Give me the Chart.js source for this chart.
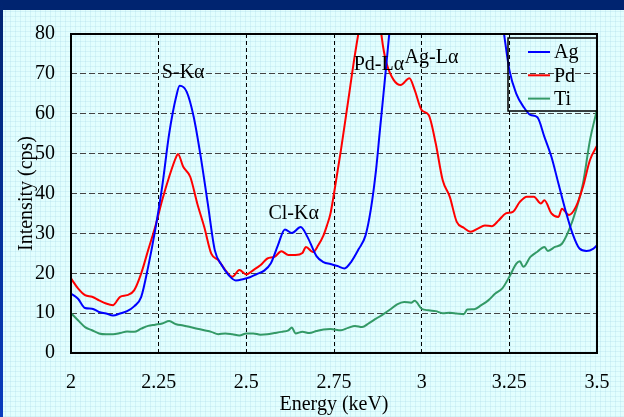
<!DOCTYPE html>
<html><head><meta charset="utf-8">
<script src="https://cdn.jsdelivr.net/npm/chart.js@4.4.1/dist/chart.umd.min.js"></script>
<style>
html,body{margin:0;padding:0;background:#e2fefe;}
#wrap{position:relative;width:624px;height:417px;overflow:hidden;background:#e2fefe;
 background-image: repeating-linear-gradient(0deg, rgba(150,205,225,0.22) 0 1px, transparent 1px 5px), repeating-linear-gradient(90deg, rgba(150,205,225,0.22) 0 1px, transparent 1px 5px);}
#top{position:absolute;left:0;top:0;width:624px;height:10px;background:#002470;}
#left{position:absolute;left:0;top:0;width:3px;height:417px;background:linear-gradient(#002470,#0a3cbe);}
canvas{position:absolute;left:0;top:0;}
</style></head>
<body><div id="wrap"><div id="top"></div><div id="left"></div><canvas id="c" width="624" height="417"></canvas></div>
<script>
// ---- data ----
const seriesNames = ['Ag', 'Pd', 'Ti'];
const seriesColors = ['#0000ff', '#ff0000', '#339966'];

const agE = [2.00,2.02,2.04,2.06,2.08,2.10,2.12,2.14,2.16,2.18,2.20,2.22,2.24,2.26,2.28,2.30,2.31,2.33,2.35,2.37,2.39,2.41,2.43,2.45,2.47,2.49,2.51,2.53,2.55,2.57,2.59,2.61,2.63,2.655,2.675,2.70,2.72,2.74,2.76,2.78,2.80,2.82,2.84,2.855,2.87,2.88,2.89,2.90,2.91,2.94,2.98,3.03,3.09,3.15,3.20,3.22,3.235,3.25,3.27,3.29,3.31,3.33,3.35,3.37,3.39,3.41,3.43,3.45,3.47,3.49,3.50];
const agI = [14.9,13.6,11.3,11.1,10.3,9.9,9.4,9.9,10.5,11.7,14.0,21.6,30.8,41.7,55.0,64.3,67.0,65.5,59.2,49.2,37.5,25.8,22.0,19.5,18.2,18.5,19.0,19.8,20.6,22.5,27.0,31.0,30.1,31.6,29.0,24.3,22.8,22.3,21.8,21.2,23.0,26.0,29.5,36.0,46.0,55.0,64.0,73.0,82.0,100,115,118,112,105,96,90,80,71.0,65.0,61.8,59.7,59.1,54.2,49.2,42.5,35.8,30.0,26.2,25.6,26.2,27.0];

const pdE = [2.00,2.02,2.04,2.06,2.08,2.10,2.12,2.14,2.16,2.18,2.20,2.22,2.24,2.26,2.28,2.30,2.305,2.32,2.34,2.36,2.38,2.40,2.42,2.44,2.46,2.48,2.50,2.52,2.54,2.56,2.58,2.60,2.62,2.64,2.66,2.67,2.69,2.705,2.72,2.73,2.74,2.75,2.77,2.79,2.81,2.83,2.855,2.875,2.885,2.89,2.90,2.92,2.94,2.965,2.98,3.00,3.02,3.04,3.06,3.08,3.10,3.12,3.14,3.16,3.18,3.20,3.22,3.24,3.26,3.28,3.30,3.32,3.34,3.35,3.37,3.39,3.40,3.42,3.44,3.46,3.48,3.50];
const pdI = [18.7,16.2,14.5,14.1,13.2,12.4,12.0,14.1,14.5,15.7,19.9,25.8,31.6,38.3,44.2,49.2,49.9,46.7,44.2,37.5,31.6,24.9,23.3,20.8,19.1,20.8,19.7,20.8,22.0,23.7,24.1,25.5,24.6,24.6,25.1,26.6,25.3,27.0,29.5,32.0,35.0,40.0,51.0,63.0,75.0,85.0,92.0,86.0,80.0,76.8,72.6,68.5,67.2,68.9,66.0,60.9,59.7,52.6,43.3,39.2,32.9,31.4,30.4,31.2,32.0,31.8,33.3,35.0,35.4,37.9,39.2,39.2,37.5,38.3,35.0,34.1,36.2,34.6,36.7,41.7,48.4,52.0];

const tiE = [2.00,2.02,2.04,2.06,2.08,2.10,2.12,2.14,2.16,2.18,2.20,2.22,2.24,2.26,2.28,2.30,2.32,2.34,2.36,2.38,2.40,2.42,2.44,2.46,2.48,2.50,2.52,2.54,2.56,2.58,2.60,2.62,2.63,2.64,2.66,2.68,2.70,2.72,2.74,2.77,2.79,2.81,2.83,2.85,2.87,2.89,2.91,2.93,2.95,2.97,2.98,3.00,3.02,3.04,3.06,3.08,3.10,3.12,3.13,3.15,3.17,3.19,3.21,3.23,3.25,3.27,3.28,3.29,3.31,3.33,3.35,3.36,3.38,3.40,3.42,3.44,3.46,3.48,3.50];
const tiI = [10.0,8.2,6.5,5.7,4.9,4.7,4.7,5.0,5.4,5.3,6.1,6.8,7.1,7.4,8.0,7.2,6.9,6.5,6.1,5.7,5.3,4.7,4.9,4.7,4.4,4.9,4.9,4.6,4.7,5.0,5.3,5.7,6.4,4.9,5.3,5.0,5.5,5.9,6.0,5.7,6.3,6.8,6.5,7.5,8.6,9.7,10.9,12.2,12.8,12.6,13.1,11.1,10.7,10.5,10.0,10.1,9.9,9.7,10.9,11.0,12.0,13.2,14.9,16.2,19.1,22.4,23.0,21.6,24.1,25.4,26.6,25.6,26.6,27.4,30.8,35.8,42.5,53.4,61.0];

const xTickLabels = ['2','2.25','2.5','2.75','3','3.25','3.5'];
const yTickLabels = ['0','10','20','30','40','50','60','70','80'];

const peakLabels = ['S-Kα','Cl-Kα','Pd-Lα','Ag-Lα'];
const peakE = [2.32, 2.635, 2.878, 3.028];
const peakI = [69.0, 33.5, 70.9, 72.8];

// ---- chart ----
const FONT = 'Liberation Serif, Times New Roman, serif';
const toPts = (xs, ys) => xs.map((x, i) => ({x: x, y: ys[i]}));
const seriesE = [agE, pdE, tiE];
const seriesI = [agI, pdI, tiI];

const datasets = seriesNames.map((n, k) => ({
  label: n,
  data: toPts(seriesE[k], seriesI[k]),
  borderColor: seriesColors[k],
  backgroundColor: seriesColors[k],
  borderWidth: 2,
  pointRadius: 0,
  fill: false,
  cubicInterpolationMode: 'monotone',
  clip: 0
}));

const frame = {
  id: 'frame',
  afterDatasetsDraw(chart) {
    const {ctx, chartArea: a, scales} = chart;
    ctx.save();
    // peak labels
    ctx.fillStyle = '#000';
    ctx.font = '20px ' + FONT;
    ctx.textAlign = 'center';
    ctx.textBaseline = 'alphabetic';
    peakLabels.forEach((t, i) => {
      ctx.fillText(t, scales.x.getPixelForValue(peakE[i]), scales.y.getPixelForValue(peakI[i]));
    });
    // border
    ctx.strokeStyle = '#000';
    ctx.lineWidth = 2;
    ctx.strokeRect(a.left, a.top, a.right - a.left, a.bottom - a.top);
    // legend
    const bx = a.right - 89, by = a.top + 4, bw = 89, bh = 73;
    ctx.lineWidth = 1.5;
    ctx.strokeRect(bx, by, bw, bh);
    ctx.textAlign = 'left';
    ctx.textBaseline = 'middle';
    chart.data.datasets.forEach((d, i) => {
      const y = by + 14 + i * 23.3;
      ctx.strokeStyle = d.borderColor;
      ctx.lineWidth = 2;
      ctx.beginPath();
      ctx.moveTo(bx + 20, y);
      ctx.lineTo(bx + 42, y);
      ctx.stroke();
      ctx.fillStyle = '#000';
      ctx.fillText(d.label, bx + 46, y + 1);
    });
    ctx.restore();
  }
};

new Chart(document.getElementById('c'), {
  type: 'line',
  data: {datasets},
  options: {
    responsive: false,
    animation: false,
    layout: {padding: {top: 34, right: 27, left: 0, bottom: 0}},
    plugins: {legend: {display: false}, tooltip: {enabled: false}},
    scales: {
      x: {
        type: 'linear', min: 2, max: 3.5,
        afterFit(s) { s.height = 64; s.paddingLeft = 0; s.paddingRight = 0; },
        ticks: {stepSize: 0.25, padding: 18, color: '#000', font: {family: FONT, size: 20},
          callback: (v, i) => xTickLabels[i]},
        grid: {color: '#000', lineWidth: 1, drawTicks: false},
        border: {display: false, dash: [4, 3]},
        title: {display: true, text: 'Energy (keV)', color: '#000', font: {family: FONT, size: 20}, padding: {top: 1, bottom: 0}}
      },
      y: {
        min: 0, max: 80,
        afterFit(s) { s.width = 71; s.paddingTop = 0; s.paddingBottom = 0; },
        ticks: {stepSize: 10, padding: 16, color: '#000', font: {family: FONT, size: 20},
          callback: (v, i) => yTickLabels[i]},
        grid: {color: '#444', lineWidth: 1, drawTicks: false},
        border: {display: false, dash: [6, 3]},
        title: {display: true, text: 'Intensity (cps)', color: '#000', font: {family: FONT, size: 20}, padding: {top: 15, bottom: 0}}
      }
    }
  },
  plugins: [frame]
});
</script>
</body></html>
